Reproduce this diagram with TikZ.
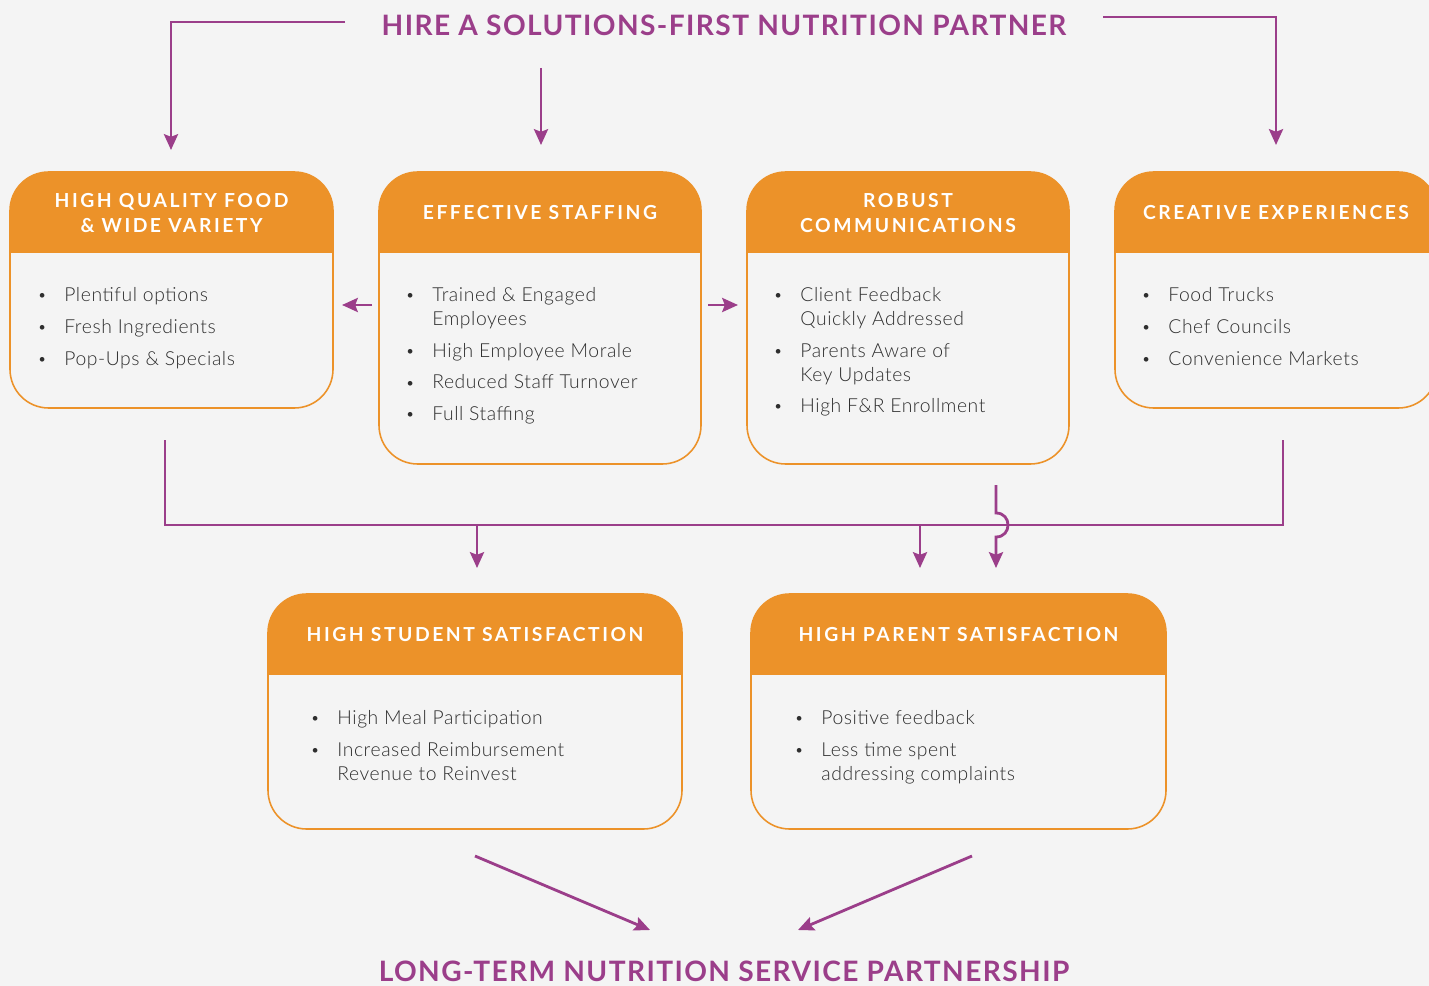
\documentclass[tikz,border=0pt]{standalone}
\usepackage{fontspec}
\setmainfont{Lato}
\newfontfamily\headfont{Lato}[LetterSpace=13]
\newfontfamily\titlefont{Lato}[LetterSpace=5]
\newfontfamily\listfont{Lato Light}[LetterSpace=3]
\usetikzlibrary{positioning,arrows.meta}

\definecolor{page_bg}{HTML}{F4F4F4}
\definecolor{card_orange}{HTML}{EC9229}
\definecolor{flow_purple}{HTML}{9B3E8A}
\definecolor{list_grey}{HTML}{2E2E2E}

% bullet hanging left of the item text
\newcommand{\bul}{\llap{\raisebox{0.5pt}{\fontsize{9}{9}\selectfont\textbullet}\hspace{10pt}}}
% card: name, left, top, right, bottom, heading
\newcommand{\card}[6]{%
  \begin{scope}
    \clip[rounded corners=22pt] (#2,#3) rectangle (#4,#5);
    \fill[page_bg] (#2,#3) rectangle (#4,#5);
    \fill[card_orange] (#2,#3) rectangle (#4,#3+81);
  \end{scope}
  \draw[card_line] (#2,#3) rectangle (#4,#5);
  \node[card_head] (#1) at ({(#2+#4)/2},#3+41) {#6};
}

\begin{document}
\begin{tikzpicture}[x=0.02cm, y=-0.02cm,
        card_line/.style={draw=card_orange, line width=0.9pt, rounded corners=22pt},
        card_head/.style={align=center, text=white, inner sep=0pt, font=\headfont\bfseries\fontsize{11}{14}\selectfont},
        list_text/.style={anchor=north west, align=left, inner sep=0pt, text=list_grey, font=\listfont\fontsize{11}{13.6}\selectfont},
        title_text/.style={text=flow_purple, inner sep=0pt, font=\titlefont\bfseries\fontsize{16}{19}\selectfont},
        flow_line/.style={draw=flow_purple, line width=1.6pt},
        flow_arrow/.style={flow_line, -{Stealth[length=9pt, width=8pt, inset=1.5pt]}}
        ]
            \useasboundingbox (0,0) rectangle (1429,986);
            \fill[page_bg] (0,0) rectangle (1429,986);

            % titles
            \node[title_text] (hire)     at (724,25)  {HIRE A SOLUTIONS-FIRST NUTRITION PARTNER};
            \node[title_text] (longterm) at (724,971) {LONG-TERM NUTRITION SERVICE PARTNERSHIP};

            % top row of cards
            \card{quality}{10}{172}{333}{408}{HIGH QUALITY FOOD\\\& WIDE VARIETY}
            \card{staffing}{379}{172}{701}{464}{EFFECTIVE STAFFING}
            \card{comms}{747}{172}{1069}{464}{ROBUST\\COMMUNICATIONS}
            \card{creative}{1115}{172}{1437}{408}{CREATIVE EXPERIENCES}
            % bottom row of cards
            \card{student}{268}{594}{682}{829}{HIGH STUDENT SATISFACTION}
            \card{parent}{751}{594}{1166}{829}{HIGH PARENT SATISFACTION}

            % lists
            \node[list_text] (quality_list)  at (64,287)   {\bul Plentiful options\\[4.5pt]\bul Fresh Ingredients\\[4.5pt]\bul Pop-Ups \& Specials};
            \node[list_text] (staffing_list) at (432,287)  {\bul Trained \& Engaged\\Employees\\[4.5pt]\bul High Employee Morale\\[4.5pt]\bul Reduced Staff Turnover\\[4.5pt]\bul Full Staffing};
            \node[list_text] (comms_list)    at (800,287)  {\bul Client Feedback\\Quickly Addressed\\[4.5pt]\bul Parents Aware of\\Key Updates\\[4.5pt]\bul High F\&R Enrollment};
            \node[list_text] (creative_list) at (1168,287) {\bul Food Trucks\\[4.5pt]\bul Chef Councils\\[4.5pt]\bul Convenience Markets};
            \node[list_text] (student_list)  at (337,710)  {\bul High Meal Participation\\[4.5pt]\bul Increased Reimbursement\\Revenue to Reinvest};
            \node[list_text] (parent_list)   at (821,710)  {\bul Positive feedback\\[4.5pt]\bul Less time spent\\addressing complaints};

            % connector ends
            \coordinate (hire_left)    at (345,22);
            \coordinate (hire_right)   at (1103,17);
            \coordinate (hire_below)   at (541,68);
            \coordinate (quality_in)   at (171,150);
            \coordinate (staffing_in)  at (541,145);
            \coordinate (creative_in)  at (1276,145);
            \coordinate (staffing_w)   at (372,305);
            \coordinate (quality_e)    at (342,305);
            \coordinate (staffing_e)   at (708,305);
            \coordinate (comms_w)      at (738,305);
            \coordinate (quality_out)  at (165,440);
            \coordinate (creative_out) at (1283,440);
            \coordinate (bus_left)     at (165,525);
            \coordinate (bus_right)    at (1283,525);
            \coordinate (bus_student)  at (477,525);
            \coordinate (bus_parent)   at (920,525);
            \coordinate (student_in)   at (477,568);
            \coordinate (parent_in_a)  at (920,568);
            \coordinate (comms_out)    at (996,485);
            \coordinate (hop_top)      at (996,513);
            \coordinate (hop_bottom)   at (996,537);
            \coordinate (parent_in_b)  at (996,568);
            \coordinate (student_out)  at (475,856);
            \coordinate (parent_out)   at (972,856);
            \coordinate (long_left)    at (650,930);
            \coordinate (long_right)   at (798,930);

            % Lines
            \draw[flow_arrow] (hire_left) -| (quality_in);
            \draw[flow_arrow] (hire_below) -- (staffing_in);
            \draw[flow_arrow] (hire_right) -| (creative_in);
            \draw[flow_arrow] (staffing_w) -- (quality_e);
            \draw[flow_arrow] (staffing_e) -- (comms_w);
            \draw[flow_line] (quality_out) -- (bus_left) -- (bus_right) -- (creative_out);
            \draw[flow_arrow] (bus_student) -- (student_in);
            \draw[flow_arrow] (bus_parent) -- (parent_in_a);
            % hop over the bus line
            \draw[flow_arrow] (comms_out) -- (hop_top) .. controls +(16,0) and +(16,0) .. (hop_bottom) -- (parent_in_b);
            \draw[flow_arrow] (student_out) -- (long_left);
            \draw[flow_arrow] (parent_out) -- (long_right);
        \end{tikzpicture}
\end{document}
